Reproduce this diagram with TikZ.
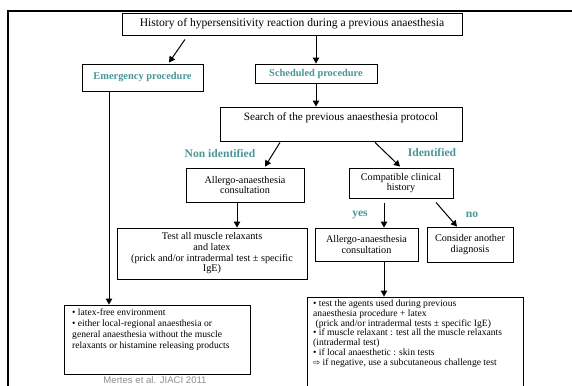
\documentclass[tikz,border=0pt]{standalone}
\usepackage{fontspec}
\setmainfont{Liberation Serif}
\newfontfamily\symfont{DejaVu Sans}
\newfontfamily\credfont{Liberation Sans}
\usetikzlibrary{arrows.meta}
\definecolor{tealtxt}{RGB}{72,150,152}
\definecolor{credgray}{RGB}{140,140,140}
\begin{document}
\begin{tikzpicture}[x=1pt,y=-1pt,
  box/.style={draw=black,line width=0.9pt,inner sep=0pt,align=center},
  arr/.style={line width=1pt,-{Triangle[length=6pt,width=6.5pt]}},
  small/.style={font=\fontsize{10.2}{10.7}\selectfont},
  teallbl/.style={text=tealtxt,font=\fontsize{11.6}{13}\selectfont\bfseries,inner sep=0pt},
  tealbox/.style={text=tealtxt,font=\fontsize{10.4}{12}\selectfont\bfseries}]
\useasboundingbox (0,0) rectangle (572,385);
\draw[line width=1.6pt] (8,386) -- (8,11) -- (573,11);
% boxes
\node[box,minimum width=340pt,minimum height=22pt,font=\fontsize{11.6}{12}\selectfont] (top) at (292,24) {History of hypersensitivity reaction during a previous anaesthesia};
\node[box,tealbox,minimum width=121pt,minimum height=27pt] (emerg) at (142.5,77.5) {Emergency procedure};
\node[box,tealbox,minimum width=122pt,minimum height=19pt] (sched) at (316,73.5) {Scheduled procedure};
\node[box,minimum width=242pt,minimum height=34pt] (search) at (341,124) {};
\node[font=\fontsize{11.2}{12}\selectfont,inner sep=0pt] (searchtxt) at (341,118) {Search of the previous anaesthesia protocol};
\node[box,small,minimum width=118pt,minimum height=34pt] (allergoA) at (245,185) {Allergo-anaesthesia\\consultation};
\node[box,small,minimum width=104pt,minimum height=30pt] (compat) at (401,183) {Compatible clinical\\history};
\node[box,small,minimum width=190pt,minimum height=51pt] (test) at (212,253.5) {Test all muscle relaxants\\and latex\\(prick and/or intradermal test ± specific\\IgE)};
\node[box,small,minimum width=103pt,minimum height=33pt] (allergoB) at (366.5,244.5) {Allergo-anaesthesia\\consultation};
\node[box,small,minimum width=86pt,minimum height=35pt] (consider) at (470,244.5) {Consider another\\diagnosis};
\node[box,minimum width=186pt,minimum height=69pt] (leftbox) at (157,339.5) {};
\node[anchor=north west,align=left,inner sep=0pt,font=\fontsize{9.6}{11}\selectfont] (lefttxt) at (72,309) {• latex-free environment\\• either local-regional anaesthesia or\\general anaesthesia without the muscle\\relaxants or histamine releasing products};
\node[box,minimum width=216pt,minimum height=100pt] (rightbox) at (415,347) {};
\node[anchor=north west,align=left,inner sep=0pt,font=\fontsize{9.6}{9.7}\selectfont] (righttxt) at (313,300) {• test the agents used during previous\\anaesthesia procedure + latex\\\ (prick and/or intradermal tests ± specific IgE)\\• if muscle relaxant : test all the muscle relaxants\\(intradermal test)\\• if local anaesthetic : skin tests\\{\symfont\fontsize{8.5}{9}\selectfont ⇨} if negative, use a subcutaneous challenge test};
% labels
\node[teallbl] (nonid) at (220,153) {Non identified};
\node[teallbl] (ident) at (432,152) {Identified};
\node[teallbl] (yes) at (360,215) {yes};
\node[teallbl] (no) at (472,215) {no};
\node[text=credgray,font=\credfont\fontsize{9.6}{10}\selectfont,inner sep=0pt] (cred) at (155,380) {Mertes et al. JIACI 2011};
% connectors
\draw[arr] ([shift={(-107,4)}]top.south) -- ([shift={(26.5,-1)}]emerg.north);
\draw[arr] ([xshift=24pt]top.south) -- ([xshift=0pt]sched.north);
\draw[arr] (sched.south) -- ([xshift=-25pt]search.north);
\draw[arr] ([shift={(-61,1)}]search.south) -- ([shift={(20,-1)}]allergoA.north);
\draw[arr] ([shift={(34,1)}]search.south) -- ([shift={(-1,-1)}]compat.north);
\draw[arr] ([xshift=-8pt]allergoA.south) -- ([xshift=25pt]test.north);
\draw[arr] ([shift={(-17,5)}]compat.south) -- ([xshift=17.5pt]allergoB.north);
\draw[arr] ([shift={(35,4)}]compat.south) -- ([shift={(-13,0)}]consider.north);
\draw[arr] ([xshift=-33.5pt]emerg.south) -- ([xshift=-48pt]leftbox.north);
\draw[arr] ([xshift=17.5pt]allergoB.south) -- ([xshift=-31pt]rightbox.north);
\end{tikzpicture}
\end{document}
